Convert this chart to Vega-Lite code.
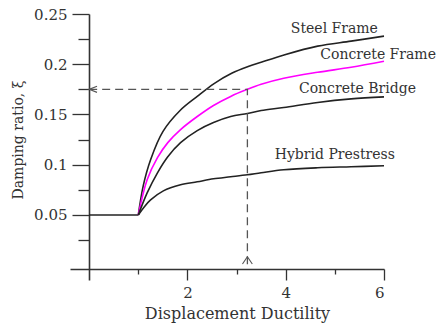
{
  "$schema": "https://vega.github.io/schema/vega-lite/v6.json",
  "width": 314,
  "height": 266,
  "autosize": "none",
  "padding": {"left": 70, "top": 14, "right": 53, "bottom": 46},
  "background": "white",
  "config": {
    "view": {"stroke": null},
    "axis": {
      "labelFont": "DejaVu Serif",
      "labelFontSize": 15,
      "labelColor": "#333",
      "titleFont": "DejaVu Serif",
      "titleFontSize": 14,
      "titleFontWeight": "normal",
      "titleColor": "#333",
      "domainColor": "#333",
      "domainWidth": 1.6,
      "tickColor": "#333",
      "tickWidth": 1.3,
      "grid": false
    }
  },
  "datasets": {
    "curves": [
      {"series": "Base", "x": 0, "y": 0.05},
      {"series": "Base", "x": 1, "y": 0.05},
      {"series": "Steel Frame", "x": 1, "y": 0.05},
      {"series": "Steel Frame", "x": 1.1, "y": 0.079},
      {"series": "Steel Frame", "x": 1.25, "y": 0.105},
      {"series": "Steel Frame", "x": 1.5, "y": 0.133},
      {"series": "Steel Frame", "x": 1.85, "y": 0.154},
      {"series": "Steel Frame", "x": 2.2, "y": 0.168},
      {"series": "Steel Frame", "x": 2.55, "y": 0.181},
      {"series": "Steel Frame", "x": 2.9, "y": 0.191},
      {"series": "Steel Frame", "x": 3.25, "y": 0.198},
      {"series": "Steel Frame", "x": 3.5, "y": 0.202},
      {"series": "Steel Frame", "x": 3.95, "y": 0.209},
      {"series": "Steel Frame", "x": 4.65, "y": 0.218},
      {"series": "Steel Frame", "x": 5.33, "y": 0.223},
      {"series": "Steel Frame", "x": 6, "y": 0.228},
      {"series": "Concrete Frame", "x": 1, "y": 0.05},
      {"series": "Concrete Frame", "x": 1.18, "y": 0.085},
      {"series": "Concrete Frame", "x": 1.39, "y": 0.107},
      {"series": "Concrete Frame", "x": 1.6, "y": 0.122},
      {"series": "Concrete Frame", "x": 1.86, "y": 0.135},
      {"series": "Concrete Frame", "x": 2.2, "y": 0.148},
      {"series": "Concrete Frame", "x": 2.53, "y": 0.159},
      {"series": "Concrete Frame", "x": 2.88, "y": 0.168},
      {"series": "Concrete Frame", "x": 3.22, "y": 0.175},
      {"series": "Concrete Frame", "x": 3.5, "y": 0.18},
      {"series": "Concrete Frame", "x": 3.96, "y": 0.186},
      {"series": "Concrete Frame", "x": 4.65, "y": 0.192},
      {"series": "Concrete Frame", "x": 5.33, "y": 0.197},
      {"series": "Concrete Frame", "x": 6, "y": 0.203},
      {"series": "Concrete Bridge", "x": 1, "y": 0.05},
      {"series": "Concrete Bridge", "x": 1.18, "y": 0.072},
      {"series": "Concrete Bridge", "x": 1.39, "y": 0.092},
      {"series": "Concrete Bridge", "x": 1.6, "y": 0.108},
      {"series": "Concrete Bridge", "x": 1.86, "y": 0.122},
      {"series": "Concrete Bridge", "x": 2.2, "y": 0.134},
      {"series": "Concrete Bridge", "x": 2.53, "y": 0.142},
      {"series": "Concrete Bridge", "x": 2.88, "y": 0.148},
      {"series": "Concrete Bridge", "x": 3.22, "y": 0.151},
      {"series": "Concrete Bridge", "x": 3.5, "y": 0.154},
      {"series": "Concrete Bridge", "x": 3.96, "y": 0.157},
      {"series": "Concrete Bridge", "x": 4.65, "y": 0.162},
      {"series": "Concrete Bridge", "x": 5.33, "y": 0.1655},
      {"series": "Concrete Bridge", "x": 6, "y": 0.1675},
      {"series": "Hybrid Prestress", "x": 1, "y": 0.05},
      {"series": "Hybrid Prestress", "x": 1.12, "y": 0.058},
      {"series": "Hybrid Prestress", "x": 1.25, "y": 0.065},
      {"series": "Hybrid Prestress", "x": 1.51, "y": 0.074},
      {"series": "Hybrid Prestress", "x": 1.86, "y": 0.08},
      {"series": "Hybrid Prestress", "x": 2.2, "y": 0.083},
      {"series": "Hybrid Prestress", "x": 2.53, "y": 0.086},
      {"series": "Hybrid Prestress", "x": 2.88, "y": 0.088},
      {"series": "Hybrid Prestress", "x": 3.22, "y": 0.09},
      {"series": "Hybrid Prestress", "x": 3.5, "y": 0.092},
      {"series": "Hybrid Prestress", "x": 3.96, "y": 0.095},
      {"series": "Hybrid Prestress", "x": 4.65, "y": 0.097},
      {"series": "Hybrid Prestress", "x": 5.33, "y": 0.098},
      {"series": "Hybrid Prestress", "x": 6, "y": 0.099}
    ],
    "guide": [
      {"step": 1, "x": 0, "y": 0.175},
      {"step": 2, "x": 3.22, "y": 0.175},
      {"step": 3, "x": 3.22, "y": -0.004}
    ],
    "arrows": [
      {"arrow": "left", "step": 1, "x": 0.16, "y": 0.178},
      {"arrow": "left", "step": 2, "x": 0.0, "y": 0.175},
      {"arrow": "left", "step": 3, "x": 0.16, "y": 0.172},
      {"arrow": "up", "step": 1, "x": 3.12, "y": 0.0012},
      {"arrow": "up", "step": 2, "x": 3.22, "y": 0.0085},
      {"arrow": "up", "step": 3, "x": 3.32, "y": 0.0012}
    ],
    "labels": [
      {"label": "Steel Frame", "x": 4.99, "y": 0.235},
      {"label": "Concrete Frame", "x": 5.88, "y": 0.209},
      {"label": "Concrete Bridge", "x": 5.46, "y": 0.1753},
      {"label": "Hybrid Prestress", "x": 5.0, "y": 0.1097}
    ]
  },
  "resolve": {"axis": {"x": "independent", "y": "independent"}},
  "layer": [
    {
      "data": {"name": "curves"},
      "mark": {"type": "line", "interpolate": "catmull-rom", "strokeWidth": 1.6},
      "encoding": {
        "x": {
          "field": "x", "type": "quantitative",
          "scale": {"domain": [-0.39, 6], "nice": false, "zero": false},
          "axis": {
            "orient": "bottom", "offset": -11, "values": [2, 4, 6],
            "tickSize": 11, "labelPadding": 5,
            "title": "Displacement Ductility",
            "titleFontSize": 16, "titleX": 167, "titleY": 44,
            "titleBaseline": "middle"
          }
        },
        "y": {
          "field": "y", "type": "quantitative",
          "scale": {"domain": [-0.0147, 0.25], "nice": false, "zero": false},
          "axis": {
            "orient": "left", "offset": -19,
            "values": [0.05, 0.1, 0.15, 0.2, 0.25], "format": "~g",
            "tickSize": 17, "labelPadding": 5,
            "title": "Damping ratio, ξ",
            "titleX": -71, "titleY": 125.5, "titleBaseline": "middle"
          }
        },
        "detail": {"field": "series"},
        "color": {
          "field": "series", "type": "nominal", "legend": null,
          "scale": {
            "domain": ["Base", "Steel Frame", "Concrete Frame", "Concrete Bridge", "Hybrid Prestress"],
            "range": ["#222222", "#222222", "#ff00ff", "#222222", "#222222"]
          }
        }
      }
    },
    {
      "data": {"name": "guide"},
      "mark": {"type": "line", "color": "#555555", "strokeWidth": 1.3, "strokeDash": [8, 5]},
      "encoding": {
        "x": {
          "field": "x", "type": "quantitative",
          "axis": {
            "orient": "bottom", "offset": -11, "values": [1, 3, 5],
            "tickSize": 5, "labels": false, "domain": false, "title": null
          }
        },
        "y": {
          "field": "y", "type": "quantitative",
          "axis": {
            "orient": "left", "offset": -19,
            "values": [0.025, 0.075, 0.125, 0.175, 0.225],
            "tickSize": 11, "labels": false, "domain": false, "title": null
          }
        },
        "order": {"field": "step"}
      }
    },
    {
      "data": {"name": "arrows"},
      "mark": {"type": "line", "color": "#555555", "strokeWidth": 1.1},
      "encoding": {
        "x": {"field": "x", "type": "quantitative", "axis": null},
        "y": {"field": "y", "type": "quantitative", "axis": null},
        "detail": {"field": "arrow"},
        "order": {"field": "step"}
      }
    },
    {
      "data": {"name": "labels"},
      "mark": {"type": "text", "font": "DejaVu Serif", "fontSize": 14, "color": "#333333", "align": "center", "baseline": "middle"},
      "encoding": {
        "x": {"field": "x", "type": "quantitative", "axis": null},
        "y": {"field": "y", "type": "quantitative", "axis": null},
        "text": {"field": "label"}
      }
    }
  ]
}
